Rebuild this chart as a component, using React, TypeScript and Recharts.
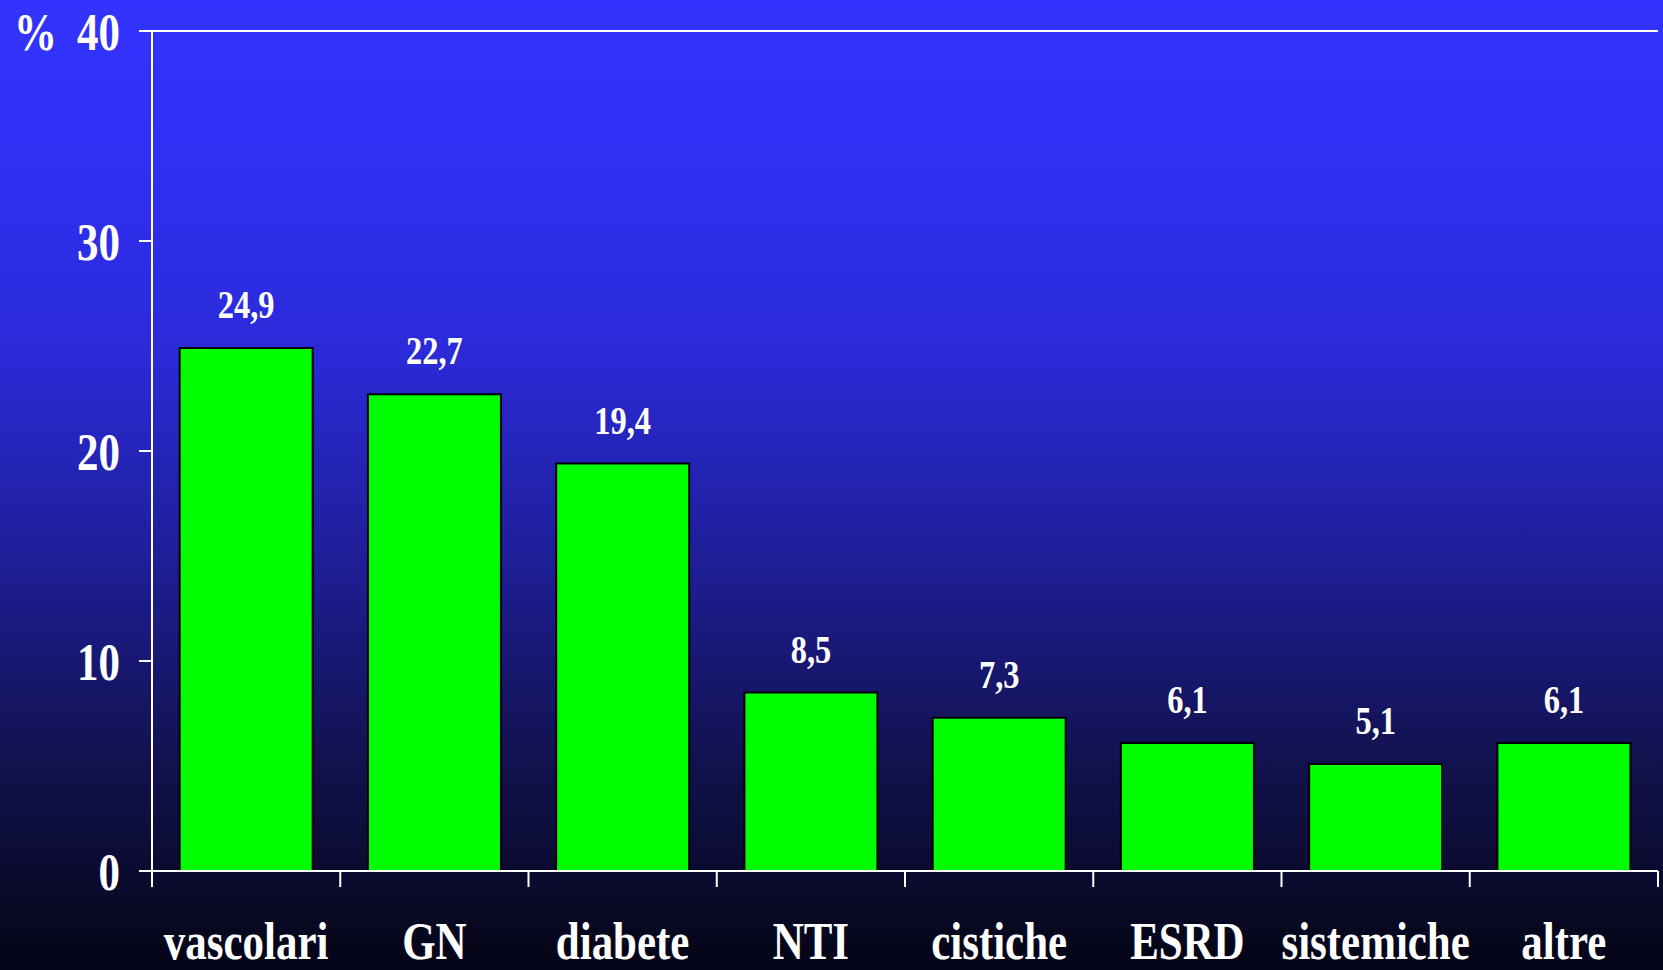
import { BarChart, Bar, XAxis, YAxis, CartesianGrid, LabelList } from 'recharts';

const categories = ['vascolari', 'GN', 'diabete', 'NTI', 'cistiche', 'ESRD', 'sistemiche', 'altre'];
const percentages = [24.9, 22.7, 19.4, 8.5, 7.3, 6.1, 5.1, 6.1];
const yTicks = [0, 10, 20, 30, 40];

const data = categories.map((name, i) => ({ name, value: percentages[i] }));

const FONT = '"Liberation Serif", "Times New Roman", serif';
const SQUEEZE = 0.81;

const XTick = (props: any) => {
  const { x, y, payload, index } = props;
  const half = payload?.offset ?? 94.1;
  const axisY = y - 16 - 40;
  return (
    <g>
      <line x1={x - half} x2={x - half} y1={axisY} y2={axisY + 16} stroke="#fff" strokeWidth={2} />
      {index === categories.length - 1 && (
        <line x1={x + half} x2={x + half} y1={axisY} y2={axisY + 16} stroke="#fff" strokeWidth={2} />
      )}
      <text
        transform={`translate(${x},${axisY + 88}) scale(${SQUEEZE},1)`}
        textAnchor="middle"
        fill="#fff"
        fontFamily={FONT}
        fontWeight="bold"
        fontSize={53}
      >
        {payload.value}
      </text>
    </g>
  );
};

const YTick = (props: any) => {
  const { x, y, payload } = props;
  return (
    <text
      transform={`translate(${x},${y}) scale(${SQUEEZE},1)`}
      dy="0.35em"
      textAnchor="end"
      fill="#fff"
      fontFamily={FONT}
      fontWeight="bold"
      fontSize={53}
    >
      {payload.value}
    </text>
  );
};

const ValueLabel = (props: any) => {
  const { x, y, width, value } = props;
  return (
    <text
      transform={`translate(${x + width / 2},${y - 30}) scale(${SQUEEZE},1)`}
      textAnchor="middle"
      fill="#fff"
      fontFamily={FONT}
      fontWeight="bold"
      fontSize={40}
    >
      {String(value).replace('.', ',')}
    </text>
  );
};

const PercentLabel = (props: any) => {
  const { viewBox } = props;
  return (
    <text
      transform={`translate(${viewBox.x + 14},${viewBox.y}) scale(${SQUEEZE},1)`}
      dy="0.35em"
      textAnchor="start"
      fill="#fff"
      fontFamily={FONT}
      fontWeight="bold"
      fontSize={53}
    >
      %
    </text>
  );
};

export default function App() {
  return (
    <div
      style={{
        position: 'absolute',
        left: 0,
        top: 0,
        width: 1663,
        height: 970,
        background:
          'linear-gradient(to bottom, #3333ff 0%, #3030f5 16%, #2a2ad7 37%, #1e1e96 58%, #121250 78%, #06061a 98%, #05051a 100%)',
      }}
    >
      <BarChart
        width={1663}
        height={970}
        data={data}
        margin={{ top: 31, right: 5, left: 0, bottom: 0 }}
        barCategoryGap="14.7%"
      >
        <CartesianGrid vertical={false} stroke="#fff" strokeWidth={2} />
        <XAxis
          dataKey="name"
          height={99}
          axisLine={{ stroke: '#fff', strokeWidth: 2 }}
          tickLine={false}
          tickSize={16}
          tickMargin={40}
          interval={0}
          tick={<XTick />}
        />
        <YAxis
          yAxisId="left"
          width={152}
          domain={[0, 40]}
          ticks={yTicks}
          axisLine={{ stroke: '#fff', strokeWidth: 2 }}
          tickLine={{ stroke: '#fff', strokeWidth: 2 }}
          tickSize={13}
          tickMargin={19}
          tick={<YTick />}
          label={<PercentLabel />}
        />
        <YAxis
          yAxisId="right"
          orientation="right"
          width={0}
          domain={[0, 40]}
          tick={false}
          tickLine={false}
          axisLine={{ stroke: '#fff', strokeWidth: 2 }}
        />
        <Bar yAxisId="left" dataKey="value" fill="#00ff00" stroke="#000" strokeWidth={2} isAnimationActive={false}>
          <LabelList dataKey="value" content={<ValueLabel />} />
        </Bar>
      </BarChart>
    </div>
  );
}
